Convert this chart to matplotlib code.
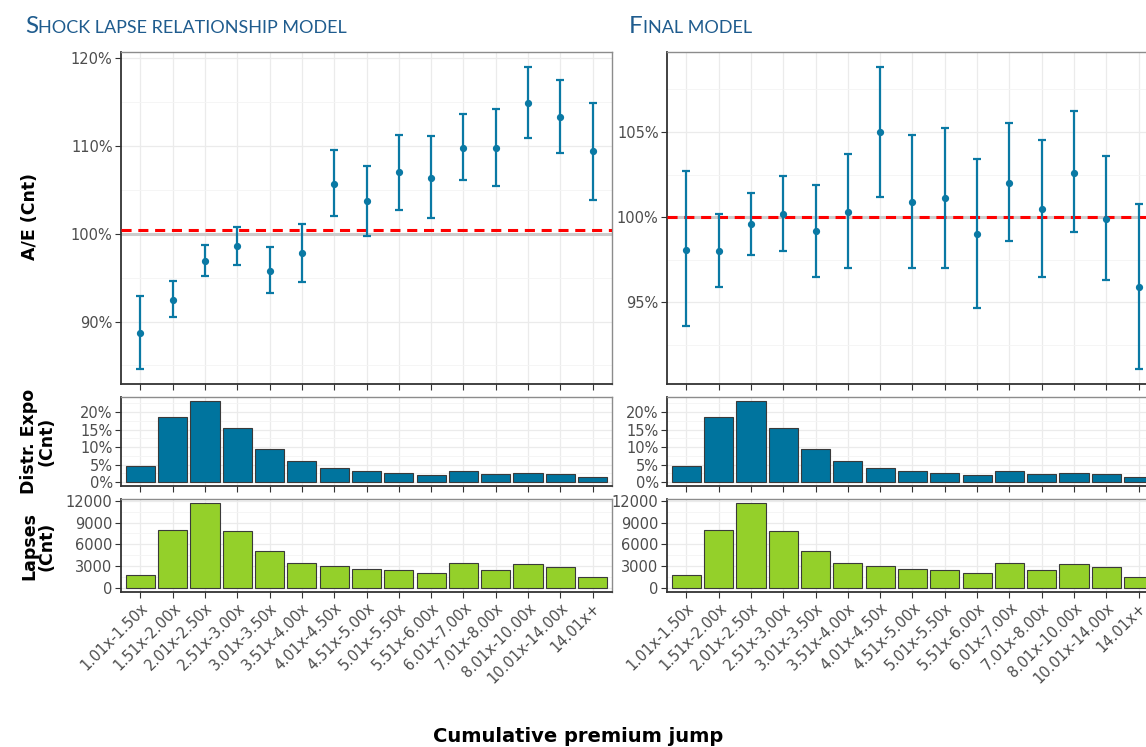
import numpy as np
import matplotlib
matplotlib.use("Agg")
import matplotlib.pyplot as plt
from matplotlib.ticker import FixedLocator, FuncFormatter

# -------------------------
# Data
# -------------------------

categories = ["1.01x-1.50x", "1.51x-2.00x", "2.01x-2.50x", "2.51x-3.00x", "3.01x-3.50x",
              "3.51x-4.00x", "4.01x-4.50x", "4.51x-5.00x", "5.01x-5.50x", "5.51x-6.00x",
              "6.01x-7.00x", "7.01x-8.00x", "8.01x-10.00x", "10.01x-14.00x", "14.01x+"]

# shock lapse relationship model: A/E with confidence interval (%)
shock_ae = [88.7, 92.5, 96.9, 98.6, 95.8, 97.8, 105.7, 103.7, 107.0, 106.4, 109.8, 109.8, 114.9, 113.3, 109.4]
shock_lo = [84.6, 90.5, 95.2, 96.4, 93.2, 94.5, 102.0, 99.7, 102.7, 101.8, 106.1, 105.4, 110.9, 109.2, 103.9]
shock_hi = [92.9, 94.6, 98.7, 100.8, 98.5, 101.1, 109.6, 107.7, 111.3, 111.1, 113.6, 114.2, 119.0, 117.5, 114.9]
shock_overall = 100.4

# final model
final_ae = [98.1, 98.0, 99.6, 100.2, 99.2, 100.3, 105.0, 100.9, 101.1, 99.0, 102.0, 100.5, 102.6, 99.9, 95.9]
final_lo = [93.6, 95.9, 97.8, 98.0, 96.5, 97.0, 101.2, 97.0, 97.0, 94.7, 98.6, 96.5, 99.1, 96.3, 91.1]
final_hi = [102.7, 100.2, 101.4, 102.4, 101.9, 103.7, 108.8, 104.8, 105.2, 103.4, 105.5, 104.5, 106.2, 103.6, 100.8]
final_overall = 100.0

# exposure distribution (%) and lapse counts
distr_expo = [4.6, 18.5, 23.2, 15.6, 9.5, 5.9, 4.1, 3.2, 2.6, 2.1, 3.2, 2.2, 2.7, 2.3, 1.5]
lapses = [1820, 7950, 11680, 7860, 5040, 3450, 2950, 2590, 2410, 2090, 3360, 2410, 3230, 2860, 1540]

# -------------------------
# Style
# -------------------------

BLUE = "#0a79a4"
BAR_BLUE = "#00749e"
GREEN = "#94d02a"
TITLE = "#1f5c8e"
TICK_GRAY = "#4d4d4d"
W, H = 1146, 747

fig = plt.figure(figsize=(W / 100, H / 100), dpi=100)
x = np.arange(len(categories))


def style_axes(ax, major, minor, fmt, show_x=False):
    ax.set_xlim(-0.6, len(categories) - 0.4)
    ax.set_xticks(x)
    ax.xaxis.set_minor_locator(FixedLocator([]))
    ax.yaxis.set_major_locator(FixedLocator(major))
    ax.yaxis.set_minor_locator(FixedLocator(minor))
    ax.yaxis.set_major_formatter(FuncFormatter(fmt))
    ax.grid(True, which="major", color="#ebebeb", lw=0.9)
    ax.grid(True, which="minor", axis="y", color="#f4f4f4", lw=0.6)
    ax.set_axisbelow(True)
    ax.tick_params(axis="both", which="major", length=4, width=0.8, color="#333333",
                   labelsize=10.5, labelcolor=TICK_GRAY, pad=2)
    ax.tick_params(which="minor", length=0)
    if show_x:
        ax.set_xticklabels(categories, rotation=45, ha="right", va="top", rotation_mode="anchor")
    else:
        ax.set_xticklabels([])
    for s in ["top", "right"]:
        ax.spines[s].set_color("#8c8c8c")
        ax.spines[s].set_linewidth(1.0)
    for s in ["left", "bottom"]:
        ax.spines[s].set_color("#333333")
        ax.spines[s].set_linewidth(1.3)


def pct(v, _):
    return f"{v:g}%"


def expand(lo, hi, f=0.05):
    r = hi - lo
    return lo - f * r, hi + f * r


def panel_column(left_px, ae, lo, hi, overall, major, minor):
    left = left_px / W
    width = 491 / W
    ax_top = fig.add_axes([left, 1 - 384 / H, width, 332 / H])
    ax_dis = fig.add_axes([left, 1 - 486 / H, width, 89 / H])
    ax_lap = fig.add_axes([left, 1 - 592 / H, width, 93 / H])

    ae, lo, hi = np.array(ae), np.array(lo), np.array(hi)
    ax_top.axhline(100, color="#cccccc", lw=2.2, zorder=2)
    ax_top.axhline(overall, color="red", lw=2.2, dashes=(3.3, 2.2), zorder=3)
    ax_top.errorbar(x, ae, yerr=[ae - lo, hi - ae], fmt="o", color=BLUE, ms=4.2,
                    elinewidth=1.6, capsize=3, capthick=1.6, zorder=4)
    ax_top.set_ylim(*expand(min(lo), max(hi)))
    style_axes(ax_top, major, minor, pct)

    ax_dis.bar(x, distr_expo, width=0.9, color=BAR_BLUE, edgecolor="#3a3a3a", lw=0.8, zorder=3)
    ax_dis.set_ylim(*expand(0, max(distr_expo)))
    style_axes(ax_dis, [0, 5, 10, 15, 20], [2.5, 7.5, 12.5, 17.5, 22.5], pct)

    ax_lap.bar(x, lapses, width=0.9, color=GREEN, edgecolor="#3a3a3a", lw=0.8, zorder=3)
    ax_lap.set_ylim(*expand(0, max(lapses)))
    style_axes(ax_lap, [0, 3000, 6000, 9000, 12000], [1500, 4500, 7500, 10500],
               lambda v, _: f"{v:.0f}", show_x=True)


panel_column(121, shock_ae, shock_lo, shock_hi, shock_overall,
             [90, 100, 110, 120], [85, 95, 105, 115])
panel_column(667, final_ae, final_lo, final_hi, final_overall,
             [95, 100, 105], [92.5, 97.5, 102.5, 107.5])

# small-caps style titles
renderer = fig.canvas.get_renderer()


def smallcaps_title(x_px, first, rest):
    y = 1 - 33 / H
    t1 = fig.text(x_px / W, y, first, fontsize=17.5, color=TITLE, family="Lato", va="baseline")
    bb = t1.get_window_extent(renderer)
    fig.text(bb.x1 / W, y, rest, fontsize=13, color=TITLE, family="Lato", va="baseline")


smallcaps_title(25, "S", "HOCK LAPSE RELATIONSHIP MODEL")
smallcaps_title(629, "F", "INAL MODEL")

# axis labels
fig.text(30 / W, 1 - 217 / H, "A/E (Cnt)", rotation=90, ha="center", va="center",
         fontsize=12.5, fontweight="bold")
fig.text(38 / W, 1 - 441 / H, "Distr. Expo\n(Cnt)", rotation=90, ha="center", va="center",
         fontsize=12.5, fontweight="bold", multialignment="center", linespacing=0.95)
fig.text(38 / W, 1 - 546 / H, "Lapses\n(Cnt)", rotation=90, ha="center", va="center",
         fontsize=12.5, fontweight="bold", multialignment="center", linespacing=0.95)
fig.text(578 / W, 1 - 737 / H, "Cumulative premium jump", ha="center", va="center",
         fontsize=14, fontweight="bold")

fig.savefig("out.png", dpi=100)
